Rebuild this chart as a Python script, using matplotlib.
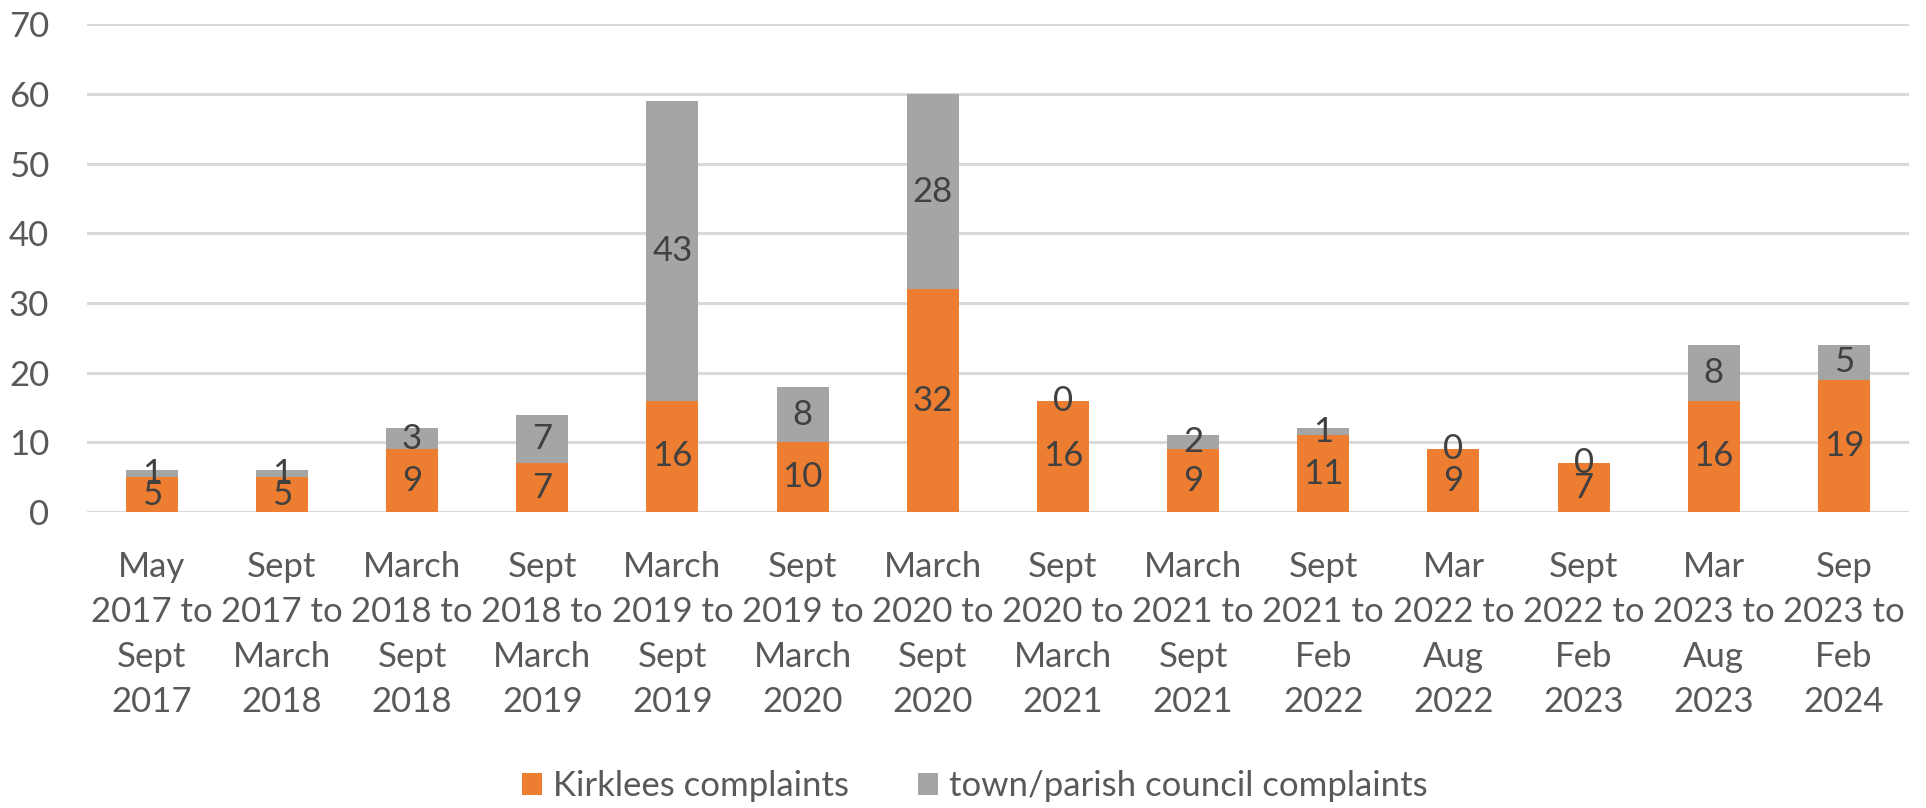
import matplotlib.pyplot as plt
import numpy as np

periods = [
    "May\n2017 to\nSept\n2017",
    "Sept\n2017 to\nMarch\n2018",
    "March\n2018 to\nSept\n2018",
    "Sept\n2018 to\nMarch\n2019",
    "March\n2019 to\nSept\n2019",
    "Sept\n2019 to\nMarch\n2020",
    "March\n2020 to\nSept\n2020",
    "Sept\n2020 to\nMarch\n2021",
    "March\n2021 to\nSept\n2021",
    "Sept\n2021 to\nFeb\n2022",
    "Mar\n2022 to\nAug\n2022",
    "Sept\n2022 to\nFeb\n2023",
    "Mar\n2023 to\nAug\n2023",
    "Sep\n2023 to\nFeb\n2024",
]
kirklees = [5, 5, 9, 7, 16, 10, 32, 16, 9, 11, 9, 7, 16, 19]
town_parish = [1, 1, 3, 7, 43, 8, 28, 0, 2, 1, 0, 0, 8, 5]

ORANGE = "#ED7D31"
GREY = "#A5A5A5"
GRID = "#D9D9D9"
TICK_TEXT = "#595959"
LABEL_TEXT = "#404040"

plt.rcParams["font.family"] = ["Lato", "DejaVu Sans"]

fig = plt.figure(figsize=(19.26, 8.08), dpi=100)
ax = fig.add_axes([0.045, 0.3663, 0.9462, 0.6034])

x = np.arange(len(periods))
b1 = ax.bar(x, kirklees, width=0.4, color=ORANGE, label="Kirklees complaints", zorder=2)
b2 = ax.bar(x, town_parish, width=0.4, bottom=kirklees, color=GREY,
            label="town/parish council complaints", zorder=2)

for bars in (b1, b2):
    ax.bar_label(bars, label_type="center", fontsize=25, color=LABEL_TEXT)

ax.set_xlim(-0.5, len(periods) - 0.5)
ax.set_ylim(0, 70)
ax.set_yticks(range(0, 71, 10))
ax.set_xticks(x)
ax.set_xticklabels(periods, linespacing=1.5)
ax.tick_params(axis="y", length=0, pad=27, labelsize=25, labelcolor=TICK_TEXT)
ax.tick_params(axis="x", length=0, pad=28, labelsize=25, labelcolor=TICK_TEXT)
ax.grid(axis="y", color=GRID, linewidth=2.2, zorder=0)
for side in ("top", "right", "left", "bottom"):
    ax.spines[side].set_visible(False)

leg = fig.legend(
    loc="center", bbox_to_anchor=(0.506, 0.027), ncol=2, frameon=False,
    handlelength=0.58, handleheight=0.6, handletextpad=0.3, columnspacing=2.0,
    fontsize=25,
)
for t in leg.get_texts():
    t.set_color(TICK_TEXT)

fig.savefig("out.png", dpi=100)
